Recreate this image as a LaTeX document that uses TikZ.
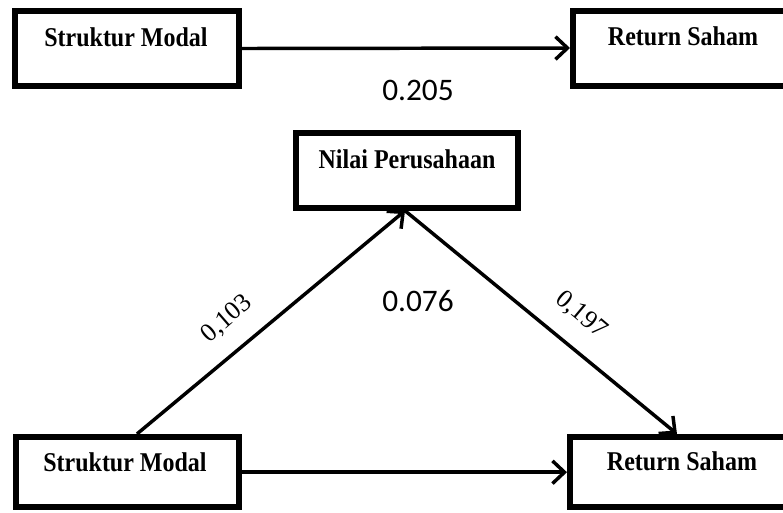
\documentclass[tikz,border=0pt]{standalone}
\usepackage{fontspec}
\setmainfont{Liberation Serif}
\newfontfamily\numfont{Carlito}
\usetikzlibrary{arrows.meta}
\newcommand{\tallbox}[1]{\scalebox{1}[1.13]{#1}}
\begin{document}
\begin{tikzpicture}[x=0.75pt,y=-0.75pt,
  box/.style={draw, line width=4.5pt, rectangle, inner sep=0pt},
  boxtext/.style={anchor=base, font=\fontsize{18}{20}\selectfont\bfseries, inner sep=0pt},
  conn/.style={line width=2.6pt, -{Straight Barb[length=9pt, width=17pt]}},
  coef/.style={font=\numfont\fontsize{23.5}{26}\selectfont, inner sep=0pt},
  pathlab/.style={font=\fontsize{19.5}{22}\selectfont, inner sep=0pt}]
\useasboundingbox (0,0) rectangle (783,512);
\clip (0,0) rectangle (783,512);
% boxes
\node[box, minimum width=168pt, minimum height=56.25pt] (tsm) at (127,48.5) {};
\node[box, minimum width=165pt, minimum height=56.25pt] (trs) at (683,48) {};
\node[box, minimum width=166.5pt, minimum height=55.8pt] (np) at (407,170.5) {};
\node[box, minimum width=167.25pt, minimum height=52.9pt] (bsm) at (127,472.2) {};
\node[box, minimum width=167.25pt, minimum height=52.9pt] (brs) at (681.5,472.2) {};
% box texts
\node[boxtext] (tsmT) at (126,46) {\tallbox{Struktur Modal}};
\node[boxtext] (trsT) at (683,45) {\tallbox{Return Saham}};
\node[boxtext] (npT) at (407,168) {\tallbox{Nilai Perusahaan}};
\node[boxtext] (bsmT) at (125,471.5) {\tallbox{Struktur Modal}};
\node[boxtext] (brsT) at (682,470.7) {\tallbox{Return Saham}};
% connectors
\draw[conn] (tsm.east) -- (trs.west);
\draw[conn] (bsm.east) -- (brs.west);
\draw[conn] ([xshift=7.5pt]bsm.north) -- ([xshift=-1.5pt]np.south);
\draw[conn] ([xshift=-1.5pt]np.south) -- ([xshift=-3.4pt]brs.north);
% coefficients
\node[coef] (c1) at (418,90) {0.205};
\node[coef] (c2) at (418,301) {0.076};
\node[pathlab, rotate=41] (l1) at (227,319) {0,103};
\node[pathlab, rotate=-40] (l2) at (581,315) {0,197};
\end{tikzpicture}
\end{document}
